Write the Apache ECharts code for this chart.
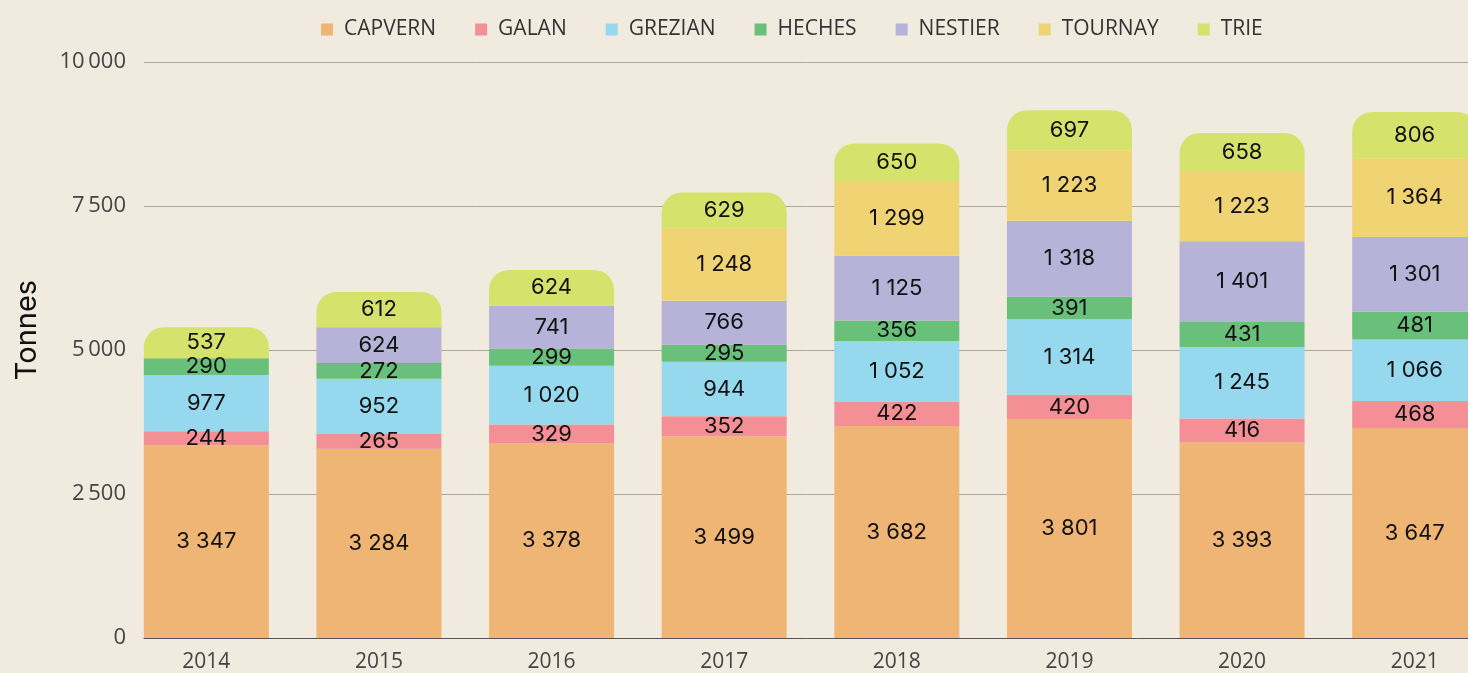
<!DOCTYPE html>
<html>
<head>
<meta charset="utf-8">
<script src="https://cdn.jsdelivr.net/npm/echarts@6/dist/echarts.min.js"></script>
<style>
  html, body { margin: 0; padding: 0; background: #f0eadf; }
  #chart { width: 1468px; height: 673px; }
</style>
</head>
<body>
<div id="chart"></div>
<script>
// années
const years = ['2014', '2015', '2016', '2017', '2018', '2019', '2020', '2021'];

// tonnages par site (null = pas de donnée)
const capvern = [3347, 3284, 3378, 3499, 3682, 3801, 3393, 3647];
const galan   = [244, 265, 329, 352, 422, 420, 416, 468];
const grezian = [977, 952, 1020, 944, 1052, 1314, 1245, 1066];
const heches  = [290, 272, 299, 295, 356, 391, 431, 481];
const nestier = [null, 624, 741, 766, 1125, 1318, 1401, 1301];
const tournay = [null, null, null, 1248, 1299, 1223, 1223, 1364];
const trie    = [537, 612, 624, 629, 650, 697, 658, 806];

const yTicks = [0, 2500, 5000, 7500, 10000];

const sites = [
  { name: 'CAPVERN', data: capvern, color: '#efb574' },
  { name: 'GALAN',   data: galan,   color: '#f48f96' },
  { name: 'GREZIAN', data: grezian, color: '#96d8ee' },
  { name: 'HECHES',  data: heches,  color: '#69c07b' },
  { name: 'NESTIER', data: nestier, color: '#b7b2d8' },
  { name: 'TOURNAY', data: tournay, color: '#f0d373' },
  { name: 'TRIE',    data: trie,    color: '#d5e26c' }
];

// séparateur de milliers "3 347"
let fmt = function(v, sep) {
  let s = String(v);
  if (s.length > 3) s = s.slice(0, s.length - 3) + sep + s.slice(-3);
  return s;
};

let series = sites.map(function(s, i) {
  return {
    name: s.name,
    type: 'bar',
    stack: 'total',
    data: s.data,
    barWidth: 125,
    xAxisIndex: 0,
    yAxisIndex: 0,
    z: 3,
    itemStyle: {
      color: s.color,
      borderRadius: i === sites.length - 1 ? [20, 20, 0, 0] : 0
    },
    label: {
      show: true,
      position: 'inside',
      color: '#111',
      fontFamily: 'Inter',
      fontSize: 22,
      formatter: function(p) { return fmt(p.value, ' '); }
    }
  };
});

let yMin = yTicks[0];
let yMax = yTicks[yTicks.length - 1];

let options = {
  backgroundColor: '#f0eadf',
  animation: false,
  color: sites.map(s => s.color),
  legend: {
    top: 14,
    left: 316,
    icon: 'rect',
    itemWidth: 12,
    itemHeight: 12,
    itemGap: 39,
    textStyle: {
      fontFamily: 'Open Sans',
      fontSize: 21,
      color: '#333',
      padding: [0, 0, 0, 6]
    },
    data: sites.map(s => s.name)
  },
  // grille 0 : barres ; grille 1 : lignes de repère et graduations
  grid: [
    { left: 120, right: -33, top: 62, bottom: 35, outerBoundsMode: 'none' },
    { left: 144, right: -33, top: 62, bottom: 35, outerBoundsMode: 'none' }
  ],
  xAxis: [
    {
      type: 'category',
      gridIndex: 0,
      data: years,
      axisTick: { show: false },
      axisLine: { show: false },
      axisLabel: {
        margin: 14,
        fontFamily: 'Open Sans',
        fontSize: 21,
        color: '#444'
      }
    },
    {
      type: 'category',
      gridIndex: 1,
      data: years,
      axisTick: { show: false },
      axisLabel: { show: false },
      axisLine: { lineStyle: { color: '#555', width: 1 } }
    }
  ],
  yAxis: [
    {
      type: 'value',
      gridIndex: 0,
      min: yMin,
      max: yMax,
      interval: 2500,
      axisLine: { show: false },
      axisTick: { show: false },
      axisLabel: { show: false },
      splitLine: { show: false }
    },
    {
      type: 'value',
      gridIndex: 1,
      min: yMin,
      max: yMax,
      interval: 2500,
      name: 'Tonnes',
      nameLocation: 'middle',
      nameGap: 102,
      nameTextStyle: {
        fontFamily: 'Inter',
        fontSize: 29,
        color: '#111',
        padding: [0, 0, 0, 40]
      },
      axisLine: { show: false },
      axisTick: { show: false },
      axisLabel: {
        margin: 18,
        fontFamily: 'Open Sans',
        fontSize: 22,
        color: '#444',
        formatter: function(v) { return fmt(v, '\u2009'); }
      },
      splitLine: { lineStyle: { color: '#aaa89e', width: 1 } }
    }
  ],
  series: series
};

let myChart = echarts.init(document.getElementById('chart'));
myChart.setOption(options);
</script>
</body>
</html>
